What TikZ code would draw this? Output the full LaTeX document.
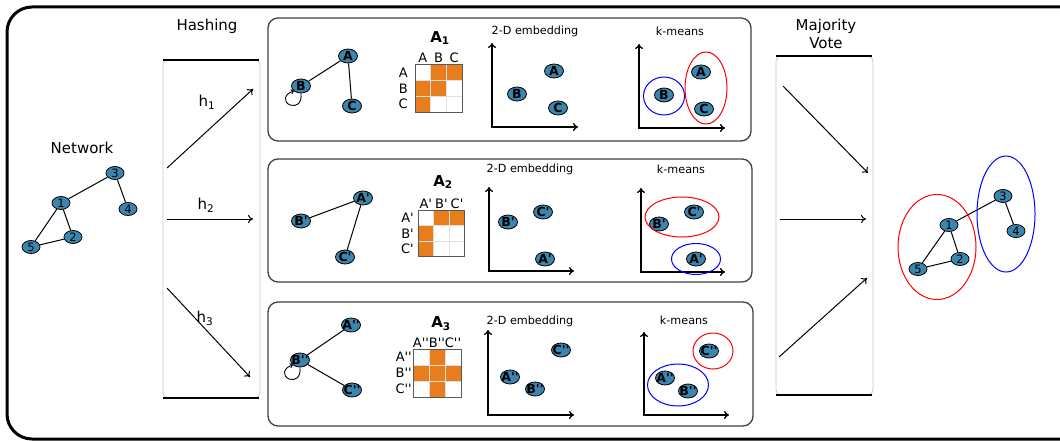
\documentclass[tikz,border=0pt]{standalone}
\usepackage{fontspec}
\setmainfont{DejaVu Sans}[Ligatures=TeXOff]
\usetikzlibrary{shapes.geometric,arrows.meta}
\definecolor{nb}{RGB}{60,133,174}
\definecolor{org}{RGB}{232,125,28}
\newcommand{\ap}{\symbol{39}}
\newcommand{\admat}[4]{%
  \foreach \i/\j in {#4} \fill[org] ({#1+\i*#3},{#2+\j*#3}) rectangle ++(#3,#3);
  \foreach \k in {1,2} {
    \draw[gray!25, line width=1] ({#1+\k*#3},#2) -- ++(0,{3*#3});
    \draw[gray!25, line width=1] (#1,{#2+\k*#3}) -- ++({3*#3},0);
  }
  \draw[black!65, line width=1] (#1,#2) rectangle ++({3*#3},{3*#3});
}
\tikzset{
  gn/.style={ellipse, draw=black, fill=nb, line width=0.8, minimum width=18pt, minimum height=13pt, inner xsep=-2pt, inner ysep=0pt, font=\fontsize{11.5}{11.5}\selectfont},
  pn/.style={gn, minimum width=19pt, minimum height=14pt, inner xsep=-3pt, font=\bfseries\fontsize{12.5}{12.5}\selectfont},
  big/.style={font=\fontsize{15}{18}\selectfont, inner sep=0pt, align=center},
  small/.style={font=\fontsize{11.2}{12}\selectfont, inner sep=0pt},
  mlab/.style={font=\fontsize{13}{13}\selectfont, inner sep=0pt},
  ttl/.style={font=\bfseries\fontsize{15}{15}\selectfont, inner sep=0pt},
  edge/.style={line width=1},
  arr/.style={line width=1, -{To[length=5pt,width=8pt]}},
  panel/.style={draw=black!75, line width=1.3, rounded corners=10},
  axis/.style={line width=1.3, {To[length=5pt,width=8pt]}-{To[length=5pt,width=8pt]}},
  kred/.style={draw=red, line width=1},
  kblue/.style={draw=blue, line width=1},
  side/.style={draw=gray!45, line width=0.8, rounded corners=5},
  bar/.style={line width=2.2},
}
\begin{document}
\begin{tikzpicture}[x=1pt,y=-1pt]
\useasboundingbox (0,0) rectangle (1060,441);
\clip (0,0) rectangle (1060,441);
\draw[line width=3, rounded corners=25] (7,7) rectangle (1100,439);

% ---------- left network
\node[big] (netlab) at (82,148) {Network};
\node[gn] (n1) at (61,203) {1};
\node[gn] (n2) at (73,237) {2};
\node[gn] (n3) at (115,173) {3};
\node[gn] (n4) at (128,209) {4};
\node[gn] (n5) at (31,247) {5};
\draw[edge] (n1) -- (n3) (n3) -- (n4) (n1) -- (n2) (n1) -- (n5) (n5) -- (n2);

% ---------- hashing
\node[big] (hashlab) at (207,26) {Hashing};
\draw[side] (163,60) rectangle (260,398);
\draw[bar] (163,60) -- (259,60);
\draw[bar] (163,398) -- (259,398);
\coordinate (h1s) at (167,168); \coordinate (h1e) at (253,89);
\coordinate (h2s) at (167,219); \coordinate (h2e) at (253,219);
\coordinate (h3s) at (167,288); \coordinate (h3e) at (250,377);
\draw[arr] (h1s) -- (h1e);
\draw[arr] (h2s) -- (h2e);
\draw[arr] (h3s) -- (h3e);
\node[big] (h1l) at (207,102) {h\textsubscript{1}};
\node[big] (h2l) at (206,205) {h\textsubscript{2}};
\node[big] (h3l) at (205,318) {h\textsubscript{3}};

% ---------- panel 1
\draw[panel] (268,18) rectangle (751,141);
\node[pn] (g1A) at (348,56) {A};
\node[pn] (g1B) at (301,86) {B};
\node[pn] (g1C) at (352,106) {C};
\draw[edge] (g1A) -- (g1B) (g1A) -- (g1C);
\draw[line width=0.9, -{To[length=3pt,width=5pt]}] (g1B.270) .. controls (302,104) and (296,107) .. (290,105) .. controls (283,102) and (284,94) .. (g1B.215);
\node[ttl] (t1) at (440,38) {A\textsubscript{1}};
\admat{415}{65}{15.7}{1/0,2/0,0/1,1/1,0/2}
\node[mlab] (c1a) at (422.85,58) {A};
\node[mlab] (c1b) at (438.55,58) {B};
\node[mlab] (c1c) at (454.25,58) {C};
\node[mlab,anchor=east] (r1a) at (408,72.85) {A};
\node[mlab,anchor=east] (r1b) at (408,88.55) {B};
\node[mlab,anchor=east] (r1c) at (408,104.25) {C};
\node[small] (em1) at (535,31) {2-D embedding};
\coordinate (ax1t) at (492,43); \coordinate (ax1o) at (492,127); \coordinate (ax1r) at (578,127);
\draw[axis] (ax1t) -- (ax1o) -- (ax1r);
\node[pn] (e1A) at (554,71) {A};
\node[pn] (e1B) at (517,94) {B};
\node[pn] (e1C) at (558,108) {C};
\node[small] (km1) at (680,31) {k-means};
\coordinate (bx1t) at (639,44); \coordinate (bx1o) at (639,128); \coordinate (bx1r) at (725,128);
\draw[axis] (bx1t) -- (bx1o) -- (bx1r);
\node[pn] (k1B) at (664,95) {B};
\node[pn] (k1A) at (701,72) {A};
\node[pn] (k1C) at (704,109) {C};
\draw[kblue] (664,96) ellipse [x radius=20.5, y radius=19];
\draw[kred] (706,88) ellipse [x radius=21, y radius=36];

% ---------- panel 2
\draw[panel] (268,159) rectangle (752,282);
\node[pn] (g2A) at (363,198) {A\ap};
\node[pn] (g2B) at (301,221) {B\ap};
\node[pn] (g2C) at (345,257) {C\ap};
\draw[edge] (g2A) -- (g2B) (g2A) -- (g2C);
\node[ttl] (t2) at (443,182) {A\textsubscript{2}};
\admat{418}{210}{15.6}{1/0,2/0,0/1,0/2}
\node[mlab] (c2a) at (425.8,204) {A\ap};
\node[mlab] (c2b) at (441.4,204) {B\ap};
\node[mlab] (c2c) at (457,204) {C\ap};
\node[mlab,anchor=east] (r2a) at (414,217.8) {A\ap};
\node[mlab,anchor=east] (r2b) at (414,233.4) {B\ap};
\node[mlab,anchor=east] (r2c) at (414,249) {C\ap};
\node[small] (em2) at (530,169) {2-D embedding};
\coordinate (ax2t) at (489,187); \coordinate (ax2o) at (489,271); \coordinate (ax2r) at (574,271);
\draw[axis] (ax2t) -- (ax2o) -- (ax2r);
\node[pn] (e2B) at (508,222) {B\ap};
\node[pn] (e2C) at (543,212) {C\ap};
\node[pn] (e2A) at (545,259) {A\ap};
\node[small] (km2) at (681,169) {k-means};
\coordinate (bx2t) at (641,188); \coordinate (bx2o) at (641,272); \coordinate (bx2r) at (725,272);
\draw[axis] (bx2t) -- (bx2o) -- (bx2r);
\node[pn] (k2B) at (659,224) {B\ap};
\node[pn] (k2C) at (694,212) {C\ap};
\node[pn] (k2A) at (696,259) {A\ap};
\draw[kred] (682,217) ellipse [x radius=37, y radius=20];
\draw[kblue] (696,259) ellipse [x radius=24.5, y radius=15.5];

% ---------- panel 3
\draw[panel] (268,302) rectangle (753,426);
\node[pn] (g3A) at (351,325) {A\ap\ap};
\node[pn] (g3B) at (300,360) {B\ap\ap};
\node[pn] (g3C) at (352,390) {C\ap\ap};
\draw[edge] (g3B) -- (g3A) (g3B) -- (g3C);
\draw[line width=0.9, -{To[length=3pt,width=5pt]}] (g3B.270) .. controls (301,378) and (295,381) .. (289,379) .. controls (282,376) and (283,368) .. (g3B.215);
\node[ttl] (t3) at (441,324) {A\textsubscript{3}};
\admat{413}{349}{16}{1/0,0/1,1/1,2/1,1/2}
\node[mlab] (c3a) at (421,343) {A\ap\ap};
\node[mlab] (c3b) at (437,343) {B\ap\ap};
\node[mlab] (c3c) at (453,343) {C\ap\ap};
\node[mlab,anchor=east] (r3a) at (412,357) {A\ap\ap};
\node[mlab,anchor=east] (r3b) at (412,373) {B\ap\ap};
\node[mlab,anchor=east] (r3c) at (412,389) {C\ap\ap};
\node[small] (em3) at (530,321) {2-D embedding};
\coordinate (ax3t) at (488,330); \coordinate (ax3o) at (488,415); \coordinate (ax3r) at (574,415);
\draw[axis] (ax3t) -- (ax3o) -- (ax3r);
\node[pn] (e3A) at (510,377) {A\ap\ap};
\node[pn] (e3B) at (535,389) {B\ap\ap};
\node[pn] (e3C) at (561,350) {C\ap\ap};
\node[small] (km3) at (684,320) {k-means};
\coordinate (bx3t) at (644,332); \coordinate (bx3o) at (644,415); \coordinate (bx3r) at (729,415);
\draw[axis] (bx3t) -- (bx3o) -- (bx3r);
\node[pn] (k3A) at (665,378) {A\ap\ap};
\node[pn] (k3B) at (688,391) {B\ap\ap};
\node[pn] (k3C) at (709,351) {C\ap\ap};
\draw[kred] (713,351) ellipse [x radius=20, y radius=18];
\draw[kblue] (678,385) ellipse [x radius=30.5, y radius=21];

% ---------- majority vote
\node[big] (mvlab) at (826,34) {Majority\\Vote};
\draw[side] (776,56) rectangle (873,395);
\draw[bar] (776,56) -- (872,56);
\draw[bar] (776,395) -- (872,395);
\coordinate (m1s) at (783,86); \coordinate (m1e) at (868,173);
\coordinate (m2s) at (780,219); \coordinate (m2e) at (866,219);
\coordinate (m3s) at (779,357); \coordinate (m3e) at (867,278);
\draw[arr] (m1s) -- (m1e);
\draw[arr] (m2s) -- (m2e);
\draw[arr] (m3s) -- (m3e);

% ---------- right network
\node[gn] (r1) at (949,225) {1};
\node[gn] (r2) at (960,259) {2};
\node[gn] (r3) at (1003,196) {3};
\node[gn] (r4) at (1016,231) {4};
\node[gn] (r5) at (918,269) {5};
\draw[edge] (r1) -- (r3) (r3) -- (r4) (r1) -- (r2) (r1) -- (r5) (r5) -- (r2);
\draw[kred] (937,247) ellipse [x radius=39, y radius=52.5];
\draw[kblue] (1006,214) ellipse [x radius=29, y radius=58];
\end{tikzpicture}
\end{document}
